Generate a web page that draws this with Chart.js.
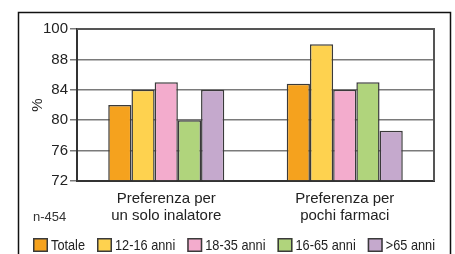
<!DOCTYPE html>
<html>
<head>
<meta charset="utf-8">
<script src="https://cdn.jsdelivr.net/npm/chart.js@4"></script>
<style>
  html, body { margin: 0; padding: 0; background: #fff; }
  #wrap { width: 455px; height: 254px; }
</style>
</head>
<body>
<div id="wrap"><canvas id="chart" width="455" height="254"></canvas></div>
<script>
// dati
const categories = [["Preferenza per", "un solo inalatore"], ["Preferenza per", "pochi farmaci"]];
const seriesNames = ["Totale", "12-16 anni", "18-35 anni", "16-65 anni", ">65 anni"];
const totale = [82, 84.8];
const anni12_16 = [84, 90];
const anni18_35 = [85, 84];
const anni16_65 = [80, 85];
const anniOver65 = [84, 78.6];
const yTickLabels = ["72", "76", "80", "84", "88", "100"];
const sampleNote = "n-454";

const colors = ["#f5a21e", "#fed24f", "#f3accd", "#b0d47c", "#c5a9cd"];
const fontFamily = "'Liberation Sans', Arial, sans-serif";

Chart.defaults.font.family = fontFamily;
Chart.defaults.color = "#222";

// cornice esterna, bordo area grafico, nota n-454 e legenda (testo un po' stretto)
const framePlugin = {
  id: "frame",
  afterDraw(chart) {
    const ctx = chart.ctx;
    const a = chart.chartArea;
    ctx.save();
    ctx.strokeStyle = "#111";
    ctx.lineWidth = 1.5;
    ctx.strokeRect(18.5, 12.5, 432, 260);
    ctx.strokeStyle = "#555";
    ctx.lineWidth = 2;
    ctx.beginPath();
    ctx.moveTo(a.left, a.top);
    ctx.lineTo(a.right, a.top);
    ctx.lineTo(a.right, a.bottom);
    ctx.stroke();

    ctx.fillStyle = "#333";
    ctx.font = "13px " + fontFamily;
    ctx.textBaseline = "middle";
    ctx.fillText(sampleNote, 33, 217);

    // legenda
    const squeeze = 0.85;
    const left = 33, right = 435, y = 245, box = 15, boxH = 14, gapText = 3;
    ctx.font = "15px " + fontFamily;
    const items = chart.data.datasets.map(ds => ({
      label: ds.label,
      color: ds.backgroundColor,
      w: ctx.measureText(ds.label).width * squeeze
    }));
    const used = items.reduce((s, it) => s + box + gapText + it.w, 0);
    const gap = (right - left - used) / (items.length - 1);
    let x = left;
    items.forEach(it => {
      ctx.fillStyle = it.color;
      ctx.fillRect(x, y - boxH / 2, box, boxH);
      ctx.strokeStyle = "#3a3a3a";
      ctx.lineWidth = 1.5;
      ctx.strokeRect(x + 0.75, y - boxH / 2 + 0.75, box - 1.5, boxH - 1.5);
      ctx.save();
      ctx.translate(x + box + gapText, y);
      ctx.scale(squeeze, 1);
      ctx.fillStyle = "#222";
      ctx.fillText(it.label, 0, 1);
      ctx.restore();
      x += box + gapText + it.w + gap;
    });
    ctx.restore();
  }
};

const data = [totale, anni12_16, anni18_35, anni16_65, anniOver65];

new Chart(document.getElementById("chart"), {
  type: "bar",
  data: {
    labels: categories,
    datasets: data.map((d, i) => ({
      label: seriesNames[i],
      data: d,
      backgroundColor: colors[i],
      borderColor: "#3a3a3a",
      borderWidth: 1.5,
      base: 72
    }))
  },
  options: {
    responsive: false,
    animation: false,
    layout: { padding: { left: 25, top: 29, right: 21, bottom: 21 } },
    datasets: { bar: { barPercentage: 1, categoryPercentage: 0.65 } },
    plugins: {
      tooltip: { enabled: false },
      legend: { display: false }
    },
    scales: {
      x: {
        grid: { display: false },
        border: { display: true, color: "#333", width: 2 },
        ticks: { color: "#222", font: { size: 15, lineHeight: 1.13 }, padding: 1 },
        afterFit(scale) { scale.height = 52; }
      },
      y: {
        min: 72,
        max: 92,
        grid: { color: "#7a7a7a", lineWidth: 1.5, tickLength: 7 },
        border: { display: true, color: "#333", width: 2 },
        ticks: {
          stepSize: 4,
          padding: 2,
          color: "#222",
          font: { size: 15 },
          callback: (v, i) => yTickLabels[i]
        },
        title: { display: true, text: "%", color: "#222", font: { size: 15 }, padding: { top: 4, bottom: 4 } },
        afterFit(scale) { scale.width = 52; }
      }
    }
  },
  plugins: [framePlugin]
});
</script>
</body>
</html>
